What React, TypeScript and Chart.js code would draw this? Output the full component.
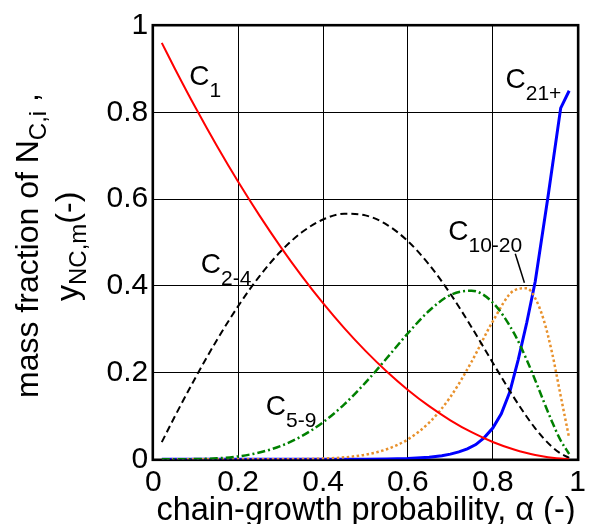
import React, { useEffect, useRef } from "react";
import { Chart, registerables } from "chart.js";

Chart.register(...registerables);

// ---- data ----
const alpha = [0.02, 0.05, 0.1, 0.15, 0.2, 0.25, 0.3, 0.35, 0.4, 0.45, 0.5, 0.55, 0.6, 0.65, 0.7, 0.75, 0.8, 0.85, 0.88, 0.9, 0.92, 0.94, 0.96, 0.98];
const c1 = [0.9604, 0.9025, 0.81, 0.7225, 0.64, 0.5625, 0.49, 0.4225, 0.36, 0.3025, 0.25, 0.2025, 0.16, 0.1225, 0.09, 0.0625, 0.04, 0.0225, 0.0144, 0.01, 0.0064, 0.0036, 0.0016, 0.0004];
const c2to4 = [0.0396, 0.0975, 0.1895, 0.2753, 0.3533, 0.4219, 0.4792, 0.5235, 0.553, 0.5663, 0.5625, 0.5413, 0.503, 0.4491, 0.3818, 0.3047, 0.2227, 0.1423, 0.0981, 0.0715, 0.048, 0.0283, 0.0132, 0.0034];
const c5to9 = [0, 0.00003, 0.0005, 0.0022, 0.0067, 0.0156, 0.0306, 0.0535, 0.0854, 0.1267, 0.1768, 0.233, 0.2906, 0.3425, 0.3789, 0.3888, 0.3615, 0.2909, 0.2293, 0.1824, 0.1335, 0.0857, 0.0434, 0.0123];
const c10to20 = [0, 0, 0, 0, 0, 0, 0.0001, 0.0005, 0.0017, 0.0045, 0.0107, 0.0232, 0.046, 0.0845, 0.1437, 0.225, 0.3182, 0.3893, 0.3946, 0.3714, 0.3215, 0.2442, 0.1462, 0.0492];
const alpha21 = [0.02, 0.3, 0.5, 0.55, 0.6, 0.65, 0.68, 0.7, 0.72, 0.74, 0.76, 0.78, 0.8, 0.82, 0.84, 0.86, 0.88, 0.9, 0.93, 0.96, 0.98];
const c21plus = [0, 0, 0.0003, 0.0008, 0.002, 0.005, 0.008, 0.012, 0.017, 0.024, 0.034, 0.05, 0.072, 0.105, 0.155, 0.23, 0.315, 0.41, 0.605, 0.81, 0.85];

const xTickLabels = ["0", "0.2", "0.4", "0.6", "0.8", "1"];
const yTickLabels = ["0", "0.2", "0.4", "0.6", "0.8", "1"];
const xTitle = "chain-growth probability, \u03b1 (-)";

// series labels: main text, subscript, anchor (alpha, value)
const seriesLabels: { main: string; sub: string; at: [number, number] }[] = [
  { main: "C", sub: "1", at: [0.085, 0.864] },
  { main: "C", sub: "2-4", at: [0.112, 0.43] },
  { main: "C", sub: "5-9", at: [0.265, 0.102] },
  { main: "C", sub: "10-20", at: [0.695, 0.506] },
  { main: "C", sub: "21+", at: [0.83, 0.857] },
];
const pointerFrom: [number, number] = [0.853, 0.474];
const pointerTo: [number, number] = [0.8745, 0.407];

const FONT = '"Liberation Sans", Arial, sans-serif';

function pts(xs: number[], ys: number[]) {
  return xs.map((x, i) => ({ x, y: ys[i] }));
}

function drawRich(
  ctx: CanvasRenderingContext2D,
  x0: number,
  y0: number,
  parts: [string, boolean][],
  big: number,
  small: number,
  shift: number
) {
  let x = x0;
  for (const [t, sub] of parts) {
    ctx.font = `${sub ? small : big}px ${FONT}`;
    ctx.fillText(t, x, y0 + (sub ? shift : 0));
    x += ctx.measureText(t).width;
  }
}

const decorPlugin = {
  id: "decor",
  beforeDatasetsDraw(chart: any) {
    const { ctx, chartArea } = chart;
    ctx.save();
    ctx.strokeStyle = "#000";
    ctx.lineWidth = 2.6;
    ctx.strokeRect(chartArea.left - 0.5, chartArea.top - 0.5, chartArea.right - chartArea.left + 1, chartArea.bottom - chartArea.top + 1);
    ctx.restore();
  },
  afterDraw(chart: any) {
    const { ctx } = chart;
    const xs = chart.scales.x;
    const ys = chart.scales.y;
    ctx.save();
    ctx.fillStyle = "#000";
    ctx.textBaseline = "alphabetic";
    ctx.textAlign = "left";
    for (const l of seriesLabels) {
      const px = xs.getPixelForValue(l.at[0]);
      const py = ys.getPixelForValue(l.at[1]);
      drawRich(ctx, px, py, [[l.main, false], [l.sub, true]], 28, 21, 12);
    }
    // pointer line for C10-20
    ctx.strokeStyle = "#000";
    ctx.lineWidth = 1.5;
    ctx.beginPath();
    ctx.moveTo(xs.getPixelForValue(pointerFrom[0]), ys.getPixelForValue(pointerFrom[1]));
    ctx.lineTo(xs.getPixelForValue(pointerTo[0]), ys.getPixelForValue(pointerTo[1]));
    ctx.stroke();

    // x axis title
    ctx.font = `32.5px ${FONT}`;
    ctx.textAlign = "center";
    ctx.fillText(xTitle, 366, 520);
    ctx.textAlign = "left";

    // y axis title (two rotated lines with subscripts)
    ctx.save();
    ctx.translate(38, 398);
    ctx.rotate(-Math.PI / 2);
    drawRich(ctx, 0, 0, [["mass fraction of N", false], ["C,i", true], [" ,", false]], 32, 24, 8);
    ctx.restore();
    ctx.save();
    ctx.translate(78, 301);
    ctx.rotate(-Math.PI / 2);
    drawRich(ctx, 0, 0, [["y", false], ["NC,m", true], ["(-)", false]], 32, 24, 8);
    ctx.restore();
    ctx.restore();
  },
};

export default function App() {
  const ref = useRef<HTMLCanvasElement | null>(null);
  useEffect(() => {
    if (!ref.current) return;
    const chart = new Chart(ref.current, {
      type: "line",
      data: {
        datasets: [
          { label: "C1", data: pts(alpha, c1), borderColor: "#ff0000", borderWidth: 2, pointRadius: 0, cubicInterpolationMode: "monotone" },
          { label: "C2-4", data: pts(alpha, c2to4), borderColor: "#000000", borderWidth: 2, borderDash: [7, 4], pointRadius: 0, cubicInterpolationMode: "monotone" },
          { label: "C5-9", data: pts(alpha, c5to9), borderColor: "#008000", borderWidth: 2.5, borderDash: [8, 3, 2, 3], pointRadius: 0, cubicInterpolationMode: "monotone" },
          { label: "C10-20", data: pts(alpha, c10to20), borderColor: "#e8912c", borderWidth: 2.5, borderDash: [2.5, 2.5], pointRadius: 0, cubicInterpolationMode: "monotone" },
          { label: "C21+", data: pts(alpha21, c21plus), borderColor: "#0000ff", borderWidth: 3, pointRadius: 0, tension: 0 },
        ] as any,
      },
      options: {
        animation: false,
        responsive: false,
        events: [],
        layout: { padding: { top: 25.7, right: 4.3, left: 0, bottom: 0 }, autoPadding: false } as any,
        plugins: { legend: { display: false }, tooltip: { enabled: false } },
        scales: {
          x: {
            type: "linear",
            min: 0,
            max: 1,
            border: { display: false },
            grid: { color: "#000", lineWidth: 1, drawTicks: false },
            ticks: {
              stepSize: 0.2,
              padding: 5,
              color: "#000",
              font: { family: FONT, size: 30 },
              maxRotation: 0,
              callback: (_v: any, i: number) => xTickLabels[i],
            },
            afterFit: (s: any) => {
              s.height = 64.7;
            },
          },
          y: {
            type: "linear",
            min: 0,
            max: 1,
            border: { display: false },
            grid: { color: "#000", lineWidth: 1, drawTicks: false },
            ticks: {
              stepSize: 0.2,
              padding: 5,
              color: "#000",
              font: { family: FONT, size: 30 },
              callback: (_v: any, i: number) => yTickLabels[i],
            },
            afterFit: (s: any) => {
              s.width = 153.3;
            },
          },
        },
      } as any,
      plugins: [decorPlugin],
    });
    return () => chart.destroy();
  }, []);
  return (
    <div style={{ position: "absolute", left: 0, top: 0, width: 591, height: 524, background: "#fff" }}>
      <canvas ref={ref} width={591} height={524} style={{ width: 591, height: 524, display: "block" }} />
    </div>
  );
}
